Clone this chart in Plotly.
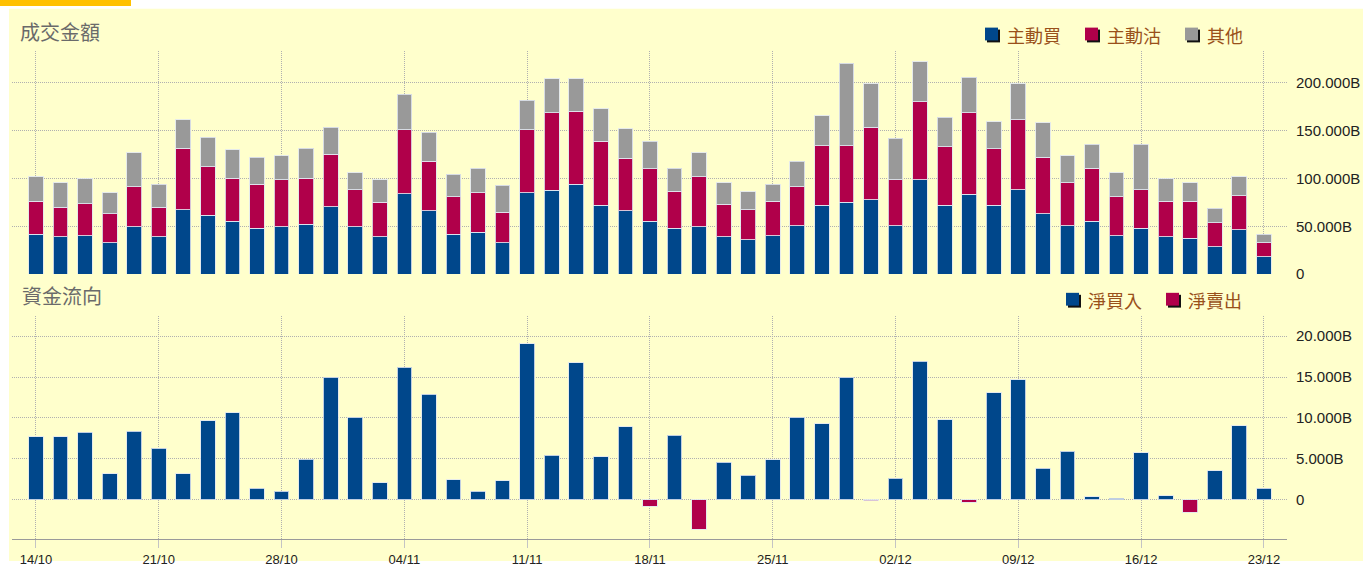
import plotly.graph_objects as go

W, H = 1363, 569

dates = [
    "14/10", "15/10", "16/10", "17/10", "18/10",
    "21/10", "22/10", "23/10", "24/10", "25/10",
    "28/10", "29/10", "30/10", "31/10", "01/11",
    "04/11", "05/11", "06/11", "07/11", "08/11",
    "11/11", "12/11", "13/11", "14/11", "15/11",
    "18/11", "19/11", "20/11", "21/11", "22/11",
    "25/11", "26/11", "27/11", "28/11", "29/11",
    "02/12", "03/12", "04/12", "05/12", "06/12",
    "09/12", "10/12", "11/12", "12/12", "13/12",
    "16/12", "17/12", "18/12", "19/12", "20/12",
    "23/12",
]

# 成交金額 (billions)
active_buy = [41.9, 39.2, 40.2, 33.0, 49.5, 39.2, 67.3, 61.5, 55.3, 48.1,
              49.5, 52.2, 70.4, 49.5, 39.2, 83.8, 66.0, 41.9, 43.6, 33.0,
              85.2, 87.9, 94.1, 71.8, 66.0, 55.3, 48.0, 49.5, 39.2, 35.7,
              40.2, 50.5, 71.8, 74.9, 77.6, 50.5, 98.6, 71.8, 83.5, 71.8,
              88.0, 62.9, 50.5, 55.3, 40.2, 47.7, 39.2, 37.5, 28.5, 46.4,
              17.9]
active_sell = [34.4, 30.9, 33.3, 29.9, 41.9, 30.9, 64.3, 50.5, 44.7, 46.0,
               49.1, 47.8, 55.0, 38.8, 35.7, 67.0, 52.2, 39.2, 41.6, 31.6,
               65.6, 80.8, 76.0, 67.0, 55.0, 55.0, 38.6, 52.2, 34.0, 31.6,
               36.1, 40.9, 62.5, 59.4, 76.0, 48.1, 81.8, 61.2, 85.2, 59.4,
               73.2, 59.4, 45.0, 55.3, 40.5, 40.6, 37.1, 38.8, 25.4, 35.7,
               15.1]
others = [25.4, 25.4, 26.2, 22.3, 35.4, 24.0, 29.6, 31.0, 29.9, 28.2,
          25.4, 31.6, 28.2, 17.5, 23.7, 37.2, 29.9, 23.4, 25.4, 28.2,
          31.0, 35.7, 34.3, 34.1, 31.2, 28.5, 24.0, 25.1, 22.3, 19.0,
          17.8, 26.8, 31.3, 86.3, 45.4, 43.3, 41.6, 30.9, 37.1, 28.3,
          37.8, 35.7, 28.2, 25.1, 25.1, 47.4, 23.4, 19.2, 14.8, 19.6,
          8.9]

# 資金流向 (billions)
net_flow = [7.71, 7.71, 8.23, 3.17, 8.39, 6.31, 3.17, 9.64, 10.64, 1.41,
            1.08, 4.94, 14.98, 10.12, 2.09, 16.22, 12.93, 2.45, 1.08, 2.33,
            19.04, 5.42, 16.75, 5.26, 8.92, -0.80, 7.87, -3.61, 4.58, 3.01,
            4.90, 10.12, 9.28, 14.98, -0.12, 2.65, 16.91, 9.80, -0.28, 13.09,
            14.66, 3.86, 5.94, 0.36, 0.20, 5.78, 0.52, -1.53, 3.53, 9.08,
            1.41]

top_ticks = [0, 50, 100, 150, 200]
top_ticktext = ["0", "50.000B", "100.000B", "150.000B", "200.000B"]
bot_ticks = [0, 5, 10, 15, 20]
bot_ticktext = ["0", "5.000B", "10.000B", "15.000B", "20.000B"]
x_ticks = dates[::5]

BLUE = "#00478B"
RED = "#B0004A"
GRAY = "#999999"
YELLOW = "#FFFFCC"
LEG_TXT = "#99501A"
EDGE = "rgba(225,230,240,0.85)"


def px(x):
    return x / W


def py(y):
    return 1 - y / H


fig = go.Figure()

for name, vals, col in [("主動買", active_buy, BLUE), ("主動沽", active_sell, RED), ("其他", others, GRAY)]:
    fig.add_trace(go.Bar(x=dates, y=vals, name=name, marker=dict(color=col, line=dict(color=EDGE, width=1)),
                         width=0.6, xaxis="x", yaxis="y", showlegend=False))

net_buy = [v if v > 0 else None for v in net_flow]
net_sell = [v if v < 0 else None for v in net_flow]
fig.add_trace(go.Bar(x=dates, y=net_buy, name="淨買入", marker=dict(color=BLUE, line=dict(color=EDGE, width=1)),
                     width=0.6, xaxis="x2", yaxis="y2", showlegend=False))
fig.add_trace(go.Bar(x=dates, y=net_sell, name="淨賣出", marker=dict(color=RED, line=dict(color=EDGE, width=1)),
                     width=0.6, xaxis="x2", yaxis="y2", showlegend=False))

xr = [-0.977, 50.94]
grid = dict(showgrid=True, gridcolor="#b0b0b0", griddash="1px,1px", gridwidth=1)
tickfont = dict(family="Liberation Sans, Arial, sans-serif", size=15, color="#222222")

shapes = [
    dict(type="rect", xref="paper", yref="paper", x0=px(9), x1=1, y0=0, y1=py(9),
         fillcolor=YELLOW, line=dict(width=0), layer="below"),
    dict(type="rect", xref="paper", yref="paper", x0=0, x1=px(131), y0=py(6), y1=1,
         fillcolor="#FFC000", line=dict(width=0), layer="below"),
]
annotations = [
    dict(text="成交金額", x=px(18), y=py(32), xref="paper", yref="paper", xanchor="left", yanchor="middle",
         showarrow=False, font=dict(family="Noto Sans CJK TC", size=20, color="#6a6a6a")),
    dict(text="資金流向", x=px(20), y=py(300), xref="paper", yref="paper", xanchor="left", yanchor="middle",
         showarrow=False, font=dict(family="Noto Sans CJK TC", size=20, color="#6a6a6a")),
]


def legend_item(x, y, color, label):
    shapes.append(dict(type="rect", xref="paper", yref="paper", x0=px(x + 2), x1=px(x + 15),
                       y0=py(y + 15), y1=py(y + 2), fillcolor="#111111", line=dict(width=0)))
    shapes.append(dict(type="rect", xref="paper", yref="paper", x0=px(x), x1=px(x + 13),
                       y0=py(y + 13), y1=py(y), fillcolor=color, line=dict(width=0)))
    annotations.append(dict(text=label, x=px(x + 20), y=py(y + 7), xref="paper", yref="paper",
                            xanchor="left", yanchor="middle", showarrow=False,
                            font=dict(family="Noto Sans CJK TC", size=18, color=LEG_TXT)))


legend_item(985, 28, BLUE, "主動買")
legend_item(1085, 28, RED, "主動沽")
legend_item(1185, 28, GRAY, "其他")
legend_item(1066, 297, BLUE, "淨買入")
legend_item(1166, 297, RED, "淨賣出")

fig.update_layout(
    width=W, height=H, autosize=False,
    margin=dict(l=0, r=0, t=0, b=0),
    paper_bgcolor="white",
    plot_bgcolor="white",
    barmode="stack",
    showlegend=False,
    shapes=shapes,
    annotations=annotations,
    xaxis=dict(domain=[px(12), px(1287)], anchor="y", type="category", range=xr,
               tickmode="array", tickvals=x_ticks, showticklabels=False, zeroline=False, **grid),
    yaxis=dict(domain=[py(278), py(52)], anchor="x", side="right", range=[0, 233],
               tickmode="array", tickvals=top_ticks, ticktext=top_ticktext, zeroline=False,
               ticklabelstandoff=8, tickfont=tickfont, **grid),
    xaxis2=dict(domain=[px(12), px(1287)], anchor="y2", type="category", range=xr,
                tickmode="array", tickvals=x_ticks, ticktext=x_ticks, zeroline=False,
                showline=True, linecolor="#9a9a9a", linewidth=1,
                ticks="outside", ticklen=8, tickcolor="#c4c4c4",
                tickfont=dict(family="Liberation Sans, Arial, sans-serif", size=13, color="#222222"), **grid),
    yaxis2=dict(domain=[py(547), py(321)], anchor="x2", side="right", range=[-4.82, 22.4],
                tickmode="array", tickvals=bot_ticks, ticktext=bot_ticktext, zeroline=False,
                ticklabelstandoff=8, tickfont=tickfont, **grid),
)

fig.write_html("out.html", config={"responsive": False, "displayModeBar": False},
               post_script="document.body.style.margin='0';document.body.style.overflow='hidden';")
